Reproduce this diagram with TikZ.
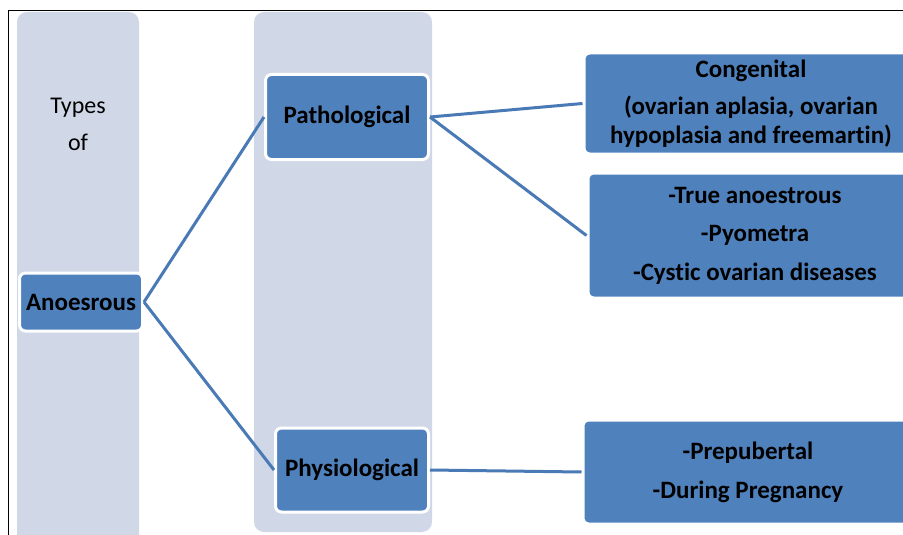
\documentclass[tikz,border=0pt]{standalone}
\usepackage{fontspec}
\setmainfont[Ligatures=NoCommon]{Carlito}
\definecolor{colbg}{HTML}{D0D8E8}
\definecolor{boxblue}{HTML}{4F81BD}
\definecolor{linkblue}{HTML}{4A7AB5}

\begin{document}
\begin{tikzpicture}[x=1pt, y=-1pt,
    column/.style={fill=colbg, rounded corners=10pt},
    mainbox/.style={draw=white, line width=3pt, fill=boxblue, rounded corners=6pt,
        font=\fontsize{25}{29}\selectfont\bfseries, align=center, inner sep=0pt},
    link/.style={draw=linkblue, line width=3pt}]
    \useasboundingbox (0,0) rectangle (903,535);
    \fill[white] (0,0) rectangle (903,535);
    % background columns
    \path[column] (17,12) rectangle (139,545);
    \path[column] (254,12) rectangle (432,532);
    \draw[line width=1pt] (8,560) -- (8,11) -- (910,11);

    \node[font=\fontsize{24}{37}\selectfont, align=center] (types) at (78,124) {Types\\of};

    \node[mainbox, minimum width=123pt, minimum height=58pt] (anoes) at (81,302) {Anoesrous};
    \node[mainbox, minimum width=163pt, minimum height=85pt] (patho) at (347,117) {Pathological};
    \node[mainbox, minimum width=153pt, minimum height=84pt] (physio) at (352,470) {Physiological};

    \node[mainbox, minimum width=334pt, minimum height=101pt] (cong) at (751,103.5)
        {Congenital\\[8pt](ovarian aplasia, ovarian\\hypoplasia and freemartin)};
    \node[mainbox, minimum width=334pt, minimum height=125pt, font=\fontsize{25}{38.5}\selectfont\bfseries] (patlist) at (755,235.5)
        {-True anoestrous\\-Pyometra\\-Cystic ovarian diseases};
    \node[mainbox, minimum width=330pt, minimum height=104pt, font=\fontsize{25}{39}\selectfont\bfseries] (phylist) at (748,472)
        {-Prepubertal\\-During Pregnancy};

    % connectors
    \draw[link] (anoes.east) -- (patho.west);
    \draw[link] (anoes.east) -- (physio.west);
    \draw[link] (patho.east) -- (cong.west);
    \draw[link] (patho.east) -- (patlist.west);
    \draw[link] (physio.east) -- (phylist.west);
\end{tikzpicture}
\end{document}
